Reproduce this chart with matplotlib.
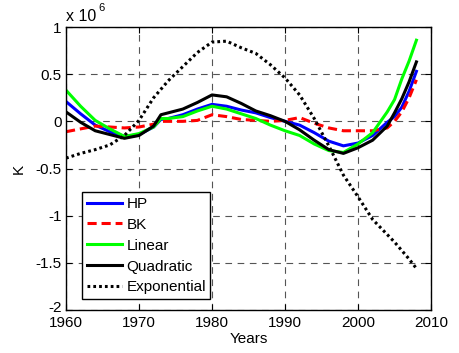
import matplotlib
matplotlib.use("Agg")
import matplotlib.pyplot as plt
from matplotlib.transforms import ScaledTranslation

plt.rcParams['font.family'] = ['Liberation Sans', 'DejaVu Sans']
plt.rcParams['font.size'] = 11

years = [1960, 1962, 1964, 1966, 1968, 1970, 1972, 1973, 1974, 1976, 1978, 1980,
         1982, 1984, 1986, 1988, 1990, 1992, 1994, 1996, 1998, 2000, 2002, 2004,
         2005, 2006, 2007, 2008]

hp = [0.21, 0.08, -0.04, -0.11, -0.16, -0.14, -0.06, 0.02, 0.03, 0.07, 0.13, 0.18,
      0.16, 0.12, 0.09, 0.04, 0.00, -0.04, -0.12, -0.21, -0.26, -0.23, -0.15, -0.01,
      0.05, 0.15, 0.32, 0.53]
bk = [-0.11, -0.08, -0.05, -0.06, -0.07, -0.06, -0.03, 0.00, 0.00, 0.00, 0.01, 0.07,
      0.05, 0.02, 0.01, 0.00, 0.01, 0.04, -0.02, -0.07, -0.10, -0.10, -0.10, -0.07,
      0.00, 0.10, 0.25, 0.44]
linear = [0.33, 0.16, 0.01, -0.08, -0.16, -0.13, -0.06, 0.03, 0.03, 0.05, 0.11, 0.16,
          0.13, 0.08, 0.03, -0.04, -0.10, -0.15, -0.24, -0.31, -0.33, -0.24, -0.12, 0.10,
          0.23, 0.45, 0.64, 0.86]
quadratic = [0.10, -0.01, -0.10, -0.14, -0.18, -0.15, -0.05, 0.07, 0.09, 0.13, 0.20, 0.28,
             0.26, 0.19, 0.11, 0.06, 0.00, -0.09, -0.20, -0.30, -0.34, -0.28, -0.20, -0.05,
             0.09, 0.24, 0.42, 0.63]
exponential = [-0.39, -0.34, -0.30, -0.25, -0.15, 0.01, 0.25, 0.34, 0.43, 0.58, 0.73, 0.84,
               0.85, 0.78, 0.72, 0.60, 0.46, 0.28, 0.03, -0.26, -0.57, -0.80, -1.04, -1.20,
               -1.28, -1.37, -1.46, -1.56]

xticks = [1960, 1970, 1980, 1990, 2000, 2010]
yticks = [-2, -1.5, -1, -0.5, 0, 0.5, 1]
yticklabels = ['-2', '-1.5', '-1', '-0.5', '0', '0.5', '1']

fig = plt.figure(figsize=(4.6, 3.53), dpi=100)
ax = fig.add_axes([0.1435, 0.1218, 0.7935, 0.8017])

lw = 2.2
ax.plot(years, hp, color='#0000ff', lw=lw, label='HP')
ax.plot(years, bk, color='#ff0000', lw=lw, ls=(0, (3, 1.6)), label='BK')
ax.plot(years, linear, color='#00ff00', lw=lw, label='Linear')
ax.plot(years, quadratic, color='black', lw=lw, label='Quadratic')
ax.plot(years, exponential, color='black', lw=lw, ls=(0, (0.9, 1.0)), label='Exponential')

ax.set_xlim(1960, 2010)
ax.set_ylim(-2, 1)
ax.set_xticks(xticks)
ax.set_yticks(yticks)
ax.set_yticklabels(yticklabels)
ax.tick_params(direction='in', top=True, right=True, length=4, labelsize=11)
ax.tick_params(axis='x', pad=4)
ax.tick_params(axis='y', pad=3)
ax.grid(True, color='#555555', ls=(0, (6, 5)), lw=0.8)
for s in ax.spines.values():
    s.set_linewidth(1.0)

# lift the bottom y label slightly so it does not collide with "1960"
lbl = ax.get_yticklabels()[0]
lbl.set_transform(lbl.get_transform() + ScaledTranslation(0, 2.5 / 72, fig.dpi_scale_trans))

ax.set_xlabel('Years', fontsize=11, labelpad=2)
ax.set_ylabel('K', fontsize=11, labelpad=7)

ax.text(0.0, 1.012, 'x 10', transform=ax.transAxes, fontsize=11.5, ha='left', va='bottom')
ax.text(0.088, 1.05, '6', transform=ax.transAxes, fontsize=8, ha='left', va='bottom')

leg = ax.legend(loc='lower left', bbox_to_anchor=(0.044, 0.039), fancybox=False,
                edgecolor='black', framealpha=1, handlelength=2.3, handletextpad=0.3,
                labelspacing=0.45, borderpad=0.3, fontsize=11, borderaxespad=0)
leg.get_frame().set_linewidth(1.0)

fig.savefig('out.png', dpi=100)
